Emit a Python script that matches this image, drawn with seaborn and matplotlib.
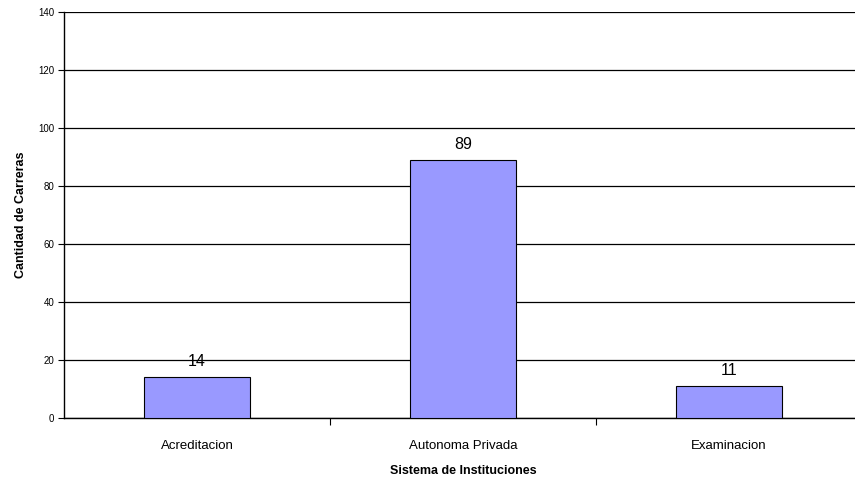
import pandas as pd
import matplotlib.pyplot as plt
import seaborn as sns
from matplotlib import font_manager

# Datos del grafico
sistemas = ["Acreditacion", "Autonoma Privada", "Examinacion"]
carreras = [14, 89, 11]
y_ticks = [0, 20, 40, 60, 80, 100, 120, 140]

df = pd.DataFrame({"Sistema": sistemas, "Carreras": carreras})

sns.set_theme(style="white")
names = {f.name for f in font_manager.fontManager.ttflist}
narrow = "Liberation Sans Narrow" if "Liberation Sans Narrow" in names else "Liberation Sans"
plt.rcParams["font.family"] = [narrow, "DejaVu Sans"]
plt.rcParams["text.color"] = "black"
plt.rcParams["axes.labelcolor"] = "black"
plt.rcParams["xtick.color"] = "black"
plt.rcParams["ytick.color"] = "black"

fig = plt.figure(figsize=(8.55, 4.88), dpi=100)
ax = fig.add_axes([64 / 855, 70 / 488, 798 / 855, 406 / 488])

sns.barplot(data=df, x="Sistema", y="Carreras", ax=ax, color="#9999FF",
            saturation=1, width=0.4, edgecolor="black", linewidth=0.8, zorder=3)

for i, v in enumerate(carreras):
    ax.text(i, v + 2.8, str(v), ha="center", va="bottom", fontsize=11.5, zorder=4)

ax.set_xlim(-0.5, 2.5)
ax.set_ylim(0, 140)
ax.set_yticks(y_ticks)
ax.yaxis.grid(True, color="black", linewidth=0.9, zorder=0)
ax.set_axisbelow(True)

for s in ["top", "right"]:
    ax.spines[s].set_visible(False)
ax.spines["left"].set_color("black")
ax.spines["bottom"].set_color("black")
ax.spines["left"].set_linewidth(1)
ax.spines["bottom"].set_linewidth(1)

ax.set_xticks([0.5, 1.5], minor=True)
ax.tick_params(axis="x", which="major", length=0, labelsize=9.5, pad=16)
ax.tick_params(axis="x", which="minor", length=5, width=0.8, color="black", direction="out")
ax.tick_params(axis="y", length=4, width=0.8, color="black", direction="out", labelsize=7, pad=3)
ax.tick_params(left=True, bottom=True)
ax.xaxis.set_tick_params(which="minor", bottom=True)

ax.set_xlabel("Sistema de Instituciones", fontsize=9, fontweight="bold", labelpad=9)
ax.set_ylabel("Cantidad de Carreras", fontsize=9, fontweight="bold", labelpad=8)

fig.savefig("out.png", dpi=100)
